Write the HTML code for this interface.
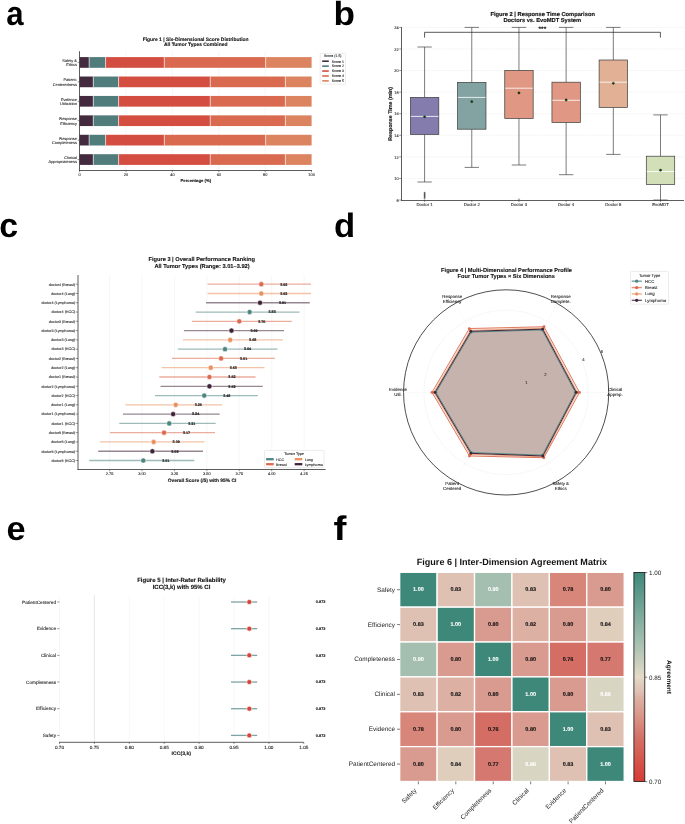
<!DOCTYPE html>
<html><head><meta charset="utf-8"><style>
html,body{margin:0;padding:0;background:#fff;}
svg{display:block;will-change:transform;font-family:"Liberation Sans",sans-serif;}
</style></head><body>
<svg text-rendering="geometricPrecision" width="685" height="824" viewBox="0 0 685 824">
<rect width="685" height="824" fill="#fff"/>
<text x="0" y="0" font-size="33.9" font-weight="bold" fill="#000" transform="translate(6.25,24.66) scale(0.92,1)">a</text>
<text x="0" y="0" font-size="33.5" font-weight="bold" fill="#000" transform="translate(333.5,24.77) scale(1.05,1)">b</text>
<text x="0" y="0" font-size="33.9" font-weight="bold" fill="#000" transform="translate(-0.72,237.06) scale(1,1)">c</text>
<text x="0" y="0" font-size="33.7" font-weight="bold" fill="#000" transform="translate(334.1,236.76) scale(1.03,1)">d</text>
<text x="0" y="0" font-size="33.6" font-weight="bold" fill="#000" transform="translate(6.6,540.26) scale(1.02,1)">e</text>
<text x="0" y="0" font-size="34.1" font-weight="bold" fill="#000" transform="translate(333.5,540.4) scale(1.14,1)">f</text>
<line x1="126" y1="51.2" x2="126" y2="170" stroke="#ececec" stroke-width="0.5"/>
<line x1="172.4" y1="51.2" x2="172.4" y2="170" stroke="#ececec" stroke-width="0.5"/>
<line x1="218.8" y1="51.2" x2="218.8" y2="170" stroke="#ececec" stroke-width="0.5"/>
<line x1="265.2" y1="51.2" x2="265.2" y2="170" stroke="#ececec" stroke-width="0.5"/>
<rect x="79.6" y="57.1" width="9.51" height="10.7" fill="#432a3e"/>
<rect x="89.11" y="57.1" width="16.47" height="10.7" fill="#507c7b"/>
<rect x="105.58" y="57.1" width="58.7" height="10.7" fill="#d34d40"/>
<rect x="164.28" y="57.1" width="101.38" height="10.7" fill="#da6a4f"/>
<rect x="265.66" y="57.1" width="45.94" height="10.7" fill="#dc8360"/>
<line x1="89.11" y1="57.1" x2="89.11" y2="67.8" stroke="#fff" stroke-width="0.6"/>
<line x1="105.58" y1="57.1" x2="105.58" y2="67.8" stroke="#fff" stroke-width="0.6"/>
<line x1="164.28" y1="57.1" x2="164.28" y2="67.8" stroke="#fff" stroke-width="0.6"/>
<line x1="265.66" y1="57.1" x2="265.66" y2="67.8" stroke="#fff" stroke-width="0.6"/>
<text x="76.9" y="61.95" font-size="3.9" text-anchor="end" fill="#222" stroke="#222" stroke-width="0.09">Safety &amp;</text>
<text x="76.9" y="66.35" font-size="3.9" text-anchor="end" fill="#222" stroke="#222" stroke-width="0.09">Ethics</text>
<line x1="77.6" y1="62.45" x2="79.6" y2="62.45" stroke="#333333" stroke-width="0.5"/>
<rect x="79.6" y="76.52" width="13.69" height="10.7" fill="#432a3e"/>
<rect x="93.29" y="76.52" width="25.29" height="10.7" fill="#507c7b"/>
<rect x="118.58" y="76.52" width="91.64" height="10.7" fill="#d34d40"/>
<rect x="210.22" y="76.52" width="75.17" height="10.7" fill="#da6a4f"/>
<rect x="285.38" y="76.52" width="26.22" height="10.7" fill="#dc8360"/>
<line x1="93.29" y1="76.52" x2="93.29" y2="87.22" stroke="#fff" stroke-width="0.6"/>
<line x1="118.58" y1="76.52" x2="118.58" y2="87.22" stroke="#fff" stroke-width="0.6"/>
<line x1="210.22" y1="76.52" x2="210.22" y2="87.22" stroke="#fff" stroke-width="0.6"/>
<line x1="285.38" y1="76.52" x2="285.38" y2="87.22" stroke="#fff" stroke-width="0.6"/>
<text x="76.9" y="81.37" font-size="3.9" text-anchor="end" fill="#222" stroke="#222" stroke-width="0.09">Patient-</text>
<text x="76.9" y="85.77" font-size="3.9" text-anchor="end" fill="#222" stroke="#222" stroke-width="0.09">Centeredness</text>
<line x1="77.6" y1="81.87" x2="79.6" y2="81.87" stroke="#333333" stroke-width="0.5"/>
<rect x="79.6" y="95.94" width="13.69" height="10.7" fill="#432a3e"/>
<rect x="93.29" y="95.94" width="25.29" height="10.7" fill="#507c7b"/>
<rect x="118.58" y="95.94" width="91.64" height="10.7" fill="#d34d40"/>
<rect x="210.22" y="95.94" width="75.17" height="10.7" fill="#da6a4f"/>
<rect x="285.38" y="95.94" width="26.22" height="10.7" fill="#dc8360"/>
<line x1="93.29" y1="95.94" x2="93.29" y2="106.64" stroke="#fff" stroke-width="0.6"/>
<line x1="118.58" y1="95.94" x2="118.58" y2="106.64" stroke="#fff" stroke-width="0.6"/>
<line x1="210.22" y1="95.94" x2="210.22" y2="106.64" stroke="#fff" stroke-width="0.6"/>
<line x1="285.38" y1="95.94" x2="285.38" y2="106.64" stroke="#fff" stroke-width="0.6"/>
<text x="76.9" y="100.79" font-size="3.9" text-anchor="end" fill="#222" stroke="#222" stroke-width="0.09">Evidence</text>
<text x="76.9" y="105.19" font-size="3.9" text-anchor="end" fill="#222" stroke="#222" stroke-width="0.09">Utilization</text>
<line x1="77.6" y1="101.29" x2="79.6" y2="101.29" stroke="#333333" stroke-width="0.5"/>
<rect x="79.6" y="115.36" width="13.69" height="10.7" fill="#432a3e"/>
<rect x="93.29" y="115.36" width="25.29" height="10.7" fill="#507c7b"/>
<rect x="118.58" y="115.36" width="91.64" height="10.7" fill="#d34d40"/>
<rect x="210.22" y="115.36" width="75.17" height="10.7" fill="#da6a4f"/>
<rect x="285.38" y="115.36" width="26.22" height="10.7" fill="#dc8360"/>
<line x1="93.29" y1="115.36" x2="93.29" y2="126.06" stroke="#fff" stroke-width="0.6"/>
<line x1="118.58" y1="115.36" x2="118.58" y2="126.06" stroke="#fff" stroke-width="0.6"/>
<line x1="210.22" y1="115.36" x2="210.22" y2="126.06" stroke="#fff" stroke-width="0.6"/>
<line x1="285.38" y1="115.36" x2="285.38" y2="126.06" stroke="#fff" stroke-width="0.6"/>
<text x="76.9" y="120.21" font-size="3.9" text-anchor="end" fill="#222" stroke="#222" stroke-width="0.09">Response</text>
<text x="76.9" y="124.61" font-size="3.9" text-anchor="end" fill="#222" stroke="#222" stroke-width="0.09">Efficiency</text>
<line x1="77.6" y1="120.71" x2="79.6" y2="120.71" stroke="#333333" stroke-width="0.5"/>
<rect x="79.6" y="134.78" width="9.51" height="10.7" fill="#432a3e"/>
<rect x="89.11" y="134.78" width="16.47" height="10.7" fill="#507c7b"/>
<rect x="105.58" y="134.78" width="58.7" height="10.7" fill="#d34d40"/>
<rect x="164.28" y="134.78" width="101.38" height="10.7" fill="#da6a4f"/>
<rect x="265.66" y="134.78" width="45.94" height="10.7" fill="#dc8360"/>
<line x1="89.11" y1="134.78" x2="89.11" y2="145.48" stroke="#fff" stroke-width="0.6"/>
<line x1="105.58" y1="134.78" x2="105.58" y2="145.48" stroke="#fff" stroke-width="0.6"/>
<line x1="164.28" y1="134.78" x2="164.28" y2="145.48" stroke="#fff" stroke-width="0.6"/>
<line x1="265.66" y1="134.78" x2="265.66" y2="145.48" stroke="#fff" stroke-width="0.6"/>
<text x="76.9" y="139.63" font-size="3.9" text-anchor="end" fill="#222" stroke="#222" stroke-width="0.09">Response</text>
<text x="76.9" y="144.03" font-size="3.9" text-anchor="end" fill="#222" stroke="#222" stroke-width="0.09">Completeness</text>
<line x1="77.6" y1="140.13" x2="79.6" y2="140.13" stroke="#333333" stroke-width="0.5"/>
<rect x="79.6" y="154.2" width="13.69" height="10.7" fill="#432a3e"/>
<rect x="93.29" y="154.2" width="25.29" height="10.7" fill="#507c7b"/>
<rect x="118.58" y="154.2" width="91.64" height="10.7" fill="#d34d40"/>
<rect x="210.22" y="154.2" width="75.17" height="10.7" fill="#da6a4f"/>
<rect x="285.38" y="154.2" width="26.22" height="10.7" fill="#dc8360"/>
<line x1="93.29" y1="154.2" x2="93.29" y2="164.9" stroke="#fff" stroke-width="0.6"/>
<line x1="118.58" y1="154.2" x2="118.58" y2="164.9" stroke="#fff" stroke-width="0.6"/>
<line x1="210.22" y1="154.2" x2="210.22" y2="164.9" stroke="#fff" stroke-width="0.6"/>
<line x1="285.38" y1="154.2" x2="285.38" y2="164.9" stroke="#fff" stroke-width="0.6"/>
<text x="76.9" y="159.05" font-size="3.9" text-anchor="end" fill="#222" stroke="#222" stroke-width="0.09">Clinical</text>
<text x="76.9" y="163.45" font-size="3.9" text-anchor="end" fill="#222" stroke="#222" stroke-width="0.09">Appropriateness</text>
<line x1="77.6" y1="159.55" x2="79.6" y2="159.55" stroke="#333333" stroke-width="0.5"/>
<line x1="79.5" y1="51.2" x2="79.5" y2="170.9" stroke="#333333" stroke-width="0.8"/>
<line x1="79.1" y1="170.5" x2="312" y2="170.5" stroke="#333333" stroke-width="0.8"/>
<line x1="79.6" y1="170.5" x2="79.6" y2="172.2" stroke="#333333" stroke-width="0.5"/>
<text x="79.6" y="176" font-size="3.9" text-anchor="middle" fill="#222" stroke="#222" stroke-width="0.09">0</text>
<line x1="126" y1="170.5" x2="126" y2="172.2" stroke="#333333" stroke-width="0.5"/>
<text x="126" y="176" font-size="3.9" text-anchor="middle" fill="#222" stroke="#222" stroke-width="0.09">20</text>
<line x1="172.4" y1="170.5" x2="172.4" y2="172.2" stroke="#333333" stroke-width="0.5"/>
<text x="172.4" y="176" font-size="3.9" text-anchor="middle" fill="#222" stroke="#222" stroke-width="0.09">40</text>
<line x1="218.8" y1="170.5" x2="218.8" y2="172.2" stroke="#333333" stroke-width="0.5"/>
<text x="218.8" y="176" font-size="3.9" text-anchor="middle" fill="#222" stroke="#222" stroke-width="0.09">60</text>
<line x1="265.2" y1="170.5" x2="265.2" y2="172.2" stroke="#333333" stroke-width="0.5"/>
<text x="265.2" y="176" font-size="3.9" text-anchor="middle" fill="#222" stroke="#222" stroke-width="0.09">80</text>
<line x1="311.6" y1="170.5" x2="311.6" y2="172.2" stroke="#333333" stroke-width="0.5"/>
<text x="311.6" y="176" font-size="3.9" text-anchor="middle" fill="#222" stroke="#222" stroke-width="0.09">100</text>
<text x="195.8" y="181.6" font-size="4.25" font-weight="bold" text-anchor="middle" fill="#111" stroke="#111" stroke-width="0.1">Percentage (%)</text>
<text x="195.6" y="40.8" font-size="4.94" font-weight="bold" text-anchor="middle" fill="#111" stroke="#111" stroke-width="0.1">Figure 1 | Six-Dimensional Score Distribution</text>
<text x="195.7" y="46.2" font-size="4.94" font-weight="bold" text-anchor="middle" fill="#111" stroke="#111" stroke-width="0.1">All Tumor Types Combined</text>
<rect x="320.2" y="53.4" width="25.3" height="30.7" fill="#fff" stroke="#d8d8d8" stroke-width="0.5" rx="0.8"/>
<text x="332.8" y="57.4" font-size="3.5" text-anchor="middle" fill="#222" stroke="#222" stroke-width="0.09">Score (1-5)</text>
<rect x="322.2" y="60.4" width="6.6" height="1.6" fill="#432a3e"/>
<text x="331.8" y="62.5" font-size="3.5" text-anchor="start" fill="#222" stroke="#222" stroke-width="0.09">Score 1</text>
<rect x="322.2" y="65.32" width="6.6" height="1.6" fill="#507c7b"/>
<text x="331.8" y="67.42" font-size="3.5" text-anchor="start" fill="#222" stroke="#222" stroke-width="0.09">Score 2</text>
<rect x="322.2" y="70.24" width="6.6" height="1.6" fill="#d34d40"/>
<text x="331.8" y="72.34" font-size="3.5" text-anchor="start" fill="#222" stroke="#222" stroke-width="0.09">Score 3</text>
<rect x="322.2" y="75.16" width="6.6" height="1.6" fill="#da6a4f"/>
<text x="331.8" y="77.26" font-size="3.5" text-anchor="start" fill="#222" stroke="#222" stroke-width="0.09">Score 4</text>
<rect x="322.2" y="80.08" width="6.6" height="1.6" fill="#dc8360"/>
<text x="331.8" y="82.18" font-size="3.5" text-anchor="start" fill="#222" stroke="#222" stroke-width="0.09">Score 5</text>
<line x1="399.2" y1="200.04" x2="401.5" y2="200.04" stroke="#333333" stroke-width="0.5"/>
<text x="398.6" y="201.74" font-size="3.9" text-anchor="end" fill="#222" stroke="#222" stroke-width="0.09">8</text>
<line x1="402.5" y1="178.46" x2="684" y2="178.46" stroke="#ebebeb" stroke-width="0.6" stroke-dasharray="2,1"/>
<line x1="399.2" y1="178.46" x2="401.5" y2="178.46" stroke="#333333" stroke-width="0.5"/>
<text x="398.6" y="180.16" font-size="3.9" text-anchor="end" fill="#222" stroke="#222" stroke-width="0.09">10</text>
<line x1="402.5" y1="156.88" x2="684" y2="156.88" stroke="#ebebeb" stroke-width="0.6" stroke-dasharray="2,1"/>
<line x1="399.2" y1="156.88" x2="401.5" y2="156.88" stroke="#333333" stroke-width="0.5"/>
<text x="398.6" y="158.58" font-size="3.9" text-anchor="end" fill="#222" stroke="#222" stroke-width="0.09">12</text>
<line x1="402.5" y1="135.3" x2="684" y2="135.3" stroke="#ebebeb" stroke-width="0.6" stroke-dasharray="2,1"/>
<line x1="399.2" y1="135.3" x2="401.5" y2="135.3" stroke="#333333" stroke-width="0.5"/>
<text x="398.6" y="137" font-size="3.9" text-anchor="end" fill="#222" stroke="#222" stroke-width="0.09">14</text>
<line x1="402.5" y1="113.72" x2="684" y2="113.72" stroke="#ebebeb" stroke-width="0.6" stroke-dasharray="2,1"/>
<line x1="399.2" y1="113.72" x2="401.5" y2="113.72" stroke="#333333" stroke-width="0.5"/>
<text x="398.6" y="115.42" font-size="3.9" text-anchor="end" fill="#222" stroke="#222" stroke-width="0.09">16</text>
<line x1="402.5" y1="92.14" x2="684" y2="92.14" stroke="#ebebeb" stroke-width="0.6" stroke-dasharray="2,1"/>
<line x1="399.2" y1="92.14" x2="401.5" y2="92.14" stroke="#333333" stroke-width="0.5"/>
<text x="398.6" y="93.84" font-size="3.9" text-anchor="end" fill="#222" stroke="#222" stroke-width="0.09">18</text>
<line x1="402.5" y1="70.56" x2="684" y2="70.56" stroke="#ebebeb" stroke-width="0.6" stroke-dasharray="2,1"/>
<line x1="399.2" y1="70.56" x2="401.5" y2="70.56" stroke="#333333" stroke-width="0.5"/>
<text x="398.6" y="72.26" font-size="3.9" text-anchor="end" fill="#222" stroke="#222" stroke-width="0.09">20</text>
<line x1="402.5" y1="48.98" x2="684" y2="48.98" stroke="#ebebeb" stroke-width="0.6" stroke-dasharray="2,1"/>
<line x1="399.2" y1="48.98" x2="401.5" y2="48.98" stroke="#333333" stroke-width="0.5"/>
<text x="398.6" y="50.68" font-size="3.9" text-anchor="end" fill="#222" stroke="#222" stroke-width="0.09">22</text>
<line x1="402.5" y1="27.4" x2="684" y2="27.4" stroke="#ebebeb" stroke-width="0.6" stroke-dasharray="2,1"/>
<line x1="399.2" y1="27.4" x2="401.5" y2="27.4" stroke="#333333" stroke-width="0.5"/>
<text x="398.6" y="29.1" font-size="3.9" text-anchor="end" fill="#222" stroke="#222" stroke-width="0.09">24</text>
<line x1="401.5" y1="27" x2="401.5" y2="200.9" stroke="#333333" stroke-width="0.8"/>
<line x1="401.5" y1="200.5" x2="684" y2="200.5" stroke="#333333" stroke-width="0.8"/>
<line x1="424.6" y1="47" x2="424.6" y2="97.4" stroke="#444" stroke-width="0.7"/>
<line x1="424.6" y1="134.4" x2="424.6" y2="182" stroke="#444" stroke-width="0.7"/>
<line x1="417.4" y1="47" x2="431.8" y2="47" stroke="#444" stroke-width="0.7"/>
<line x1="417.4" y1="182" x2="431.8" y2="182" stroke="#444" stroke-width="0.7"/>
<rect x="410.4" y="97.4" width="28.4" height="37" fill="#857cae" stroke="#3a3a3a" stroke-width="0.7"/>
<line x1="410.8" y1="116.4" x2="438.4" y2="116.4" stroke="#ffffff" stroke-width="0.9" stroke-opacity="0.9"/>
<circle cx="424.6" cy="116.8" r="1.15" fill="#0b4d0b" stroke="#000" stroke-width="0.3"/>
<line x1="424.6" y1="200.3" x2="424.6" y2="202" stroke="#333333" stroke-width="0.5"/>
<text x="424.6" y="206.1" font-size="4.3" text-anchor="middle" fill="#222" stroke="#222" stroke-width="0.09">Doctor 1</text>
<line x1="471.78" y1="27.4" x2="471.78" y2="82.4" stroke="#444" stroke-width="0.7"/>
<line x1="471.78" y1="129.2" x2="471.78" y2="167.4" stroke="#444" stroke-width="0.7"/>
<line x1="464.58" y1="27.4" x2="478.98" y2="27.4" stroke="#444" stroke-width="0.7"/>
<line x1="464.58" y1="167.4" x2="478.98" y2="167.4" stroke="#444" stroke-width="0.7"/>
<rect x="457.58" y="82.4" width="28.4" height="46.8" fill="#82a3a1" stroke="#3a3a3a" stroke-width="0.7"/>
<line x1="457.98" y1="97.4" x2="485.58" y2="97.4" stroke="#ffffff" stroke-width="0.9" stroke-opacity="0.9"/>
<circle cx="471.78" cy="101.6" r="1.15" fill="#0b4d0b" stroke="#000" stroke-width="0.3"/>
<line x1="471.78" y1="200.3" x2="471.78" y2="202" stroke="#333333" stroke-width="0.5"/>
<text x="471.78" y="206.1" font-size="4.3" text-anchor="middle" fill="#222" stroke="#222" stroke-width="0.09">Doctor 2</text>
<line x1="518.96" y1="27.4" x2="518.96" y2="70.4" stroke="#444" stroke-width="0.7"/>
<line x1="518.96" y1="118.4" x2="518.96" y2="165" stroke="#444" stroke-width="0.7"/>
<line x1="511.76" y1="27.4" x2="526.16" y2="27.4" stroke="#444" stroke-width="0.7"/>
<line x1="511.76" y1="165" x2="526.16" y2="165" stroke="#444" stroke-width="0.7"/>
<rect x="504.76" y="70.4" width="28.4" height="48" fill="#e09884" stroke="#3a3a3a" stroke-width="0.7"/>
<line x1="505.16" y1="88.2" x2="532.76" y2="88.2" stroke="#ffffff" stroke-width="0.9" stroke-opacity="0.9"/>
<circle cx="518.96" cy="92.9" r="1.15" fill="#0b4d0b" stroke="#000" stroke-width="0.3"/>
<line x1="518.96" y1="200.3" x2="518.96" y2="202" stroke="#333333" stroke-width="0.5"/>
<text x="518.96" y="206.1" font-size="4.3" text-anchor="middle" fill="#222" stroke="#222" stroke-width="0.09">Doctor 3</text>
<line x1="566.14" y1="27.4" x2="566.14" y2="82.2" stroke="#444" stroke-width="0.7"/>
<line x1="566.14" y1="122.5" x2="566.14" y2="174.7" stroke="#444" stroke-width="0.7"/>
<line x1="558.94" y1="27.4" x2="573.34" y2="27.4" stroke="#444" stroke-width="0.7"/>
<line x1="558.94" y1="174.7" x2="573.34" y2="174.7" stroke="#444" stroke-width="0.7"/>
<rect x="551.94" y="82.2" width="28.4" height="40.3" fill="#e09884" stroke="#3a3a3a" stroke-width="0.7"/>
<line x1="552.34" y1="100.3" x2="579.94" y2="100.3" stroke="#ffffff" stroke-width="0.9" stroke-opacity="0.9"/>
<circle cx="566.14" cy="100" r="1.15" fill="#0b4d0b" stroke="#000" stroke-width="0.3"/>
<line x1="566.14" y1="200.3" x2="566.14" y2="202" stroke="#333333" stroke-width="0.5"/>
<text x="566.14" y="206.1" font-size="4.3" text-anchor="middle" fill="#222" stroke="#222" stroke-width="0.09">Doctor 4</text>
<line x1="613.32" y1="27.4" x2="613.32" y2="60" stroke="#444" stroke-width="0.7"/>
<line x1="613.32" y1="107.4" x2="613.32" y2="154.4" stroke="#444" stroke-width="0.7"/>
<line x1="606.12" y1="27.4" x2="620.52" y2="27.4" stroke="#444" stroke-width="0.7"/>
<line x1="606.12" y1="154.4" x2="620.52" y2="154.4" stroke="#444" stroke-width="0.7"/>
<rect x="599.12" y="60" width="28.4" height="47.4" fill="#e2b095" stroke="#3a3a3a" stroke-width="0.7"/>
<line x1="599.52" y1="82.2" x2="627.12" y2="82.2" stroke="#ffffff" stroke-width="0.9" stroke-opacity="0.9"/>
<circle cx="613.32" cy="83.3" r="1.15" fill="#0b4d0b" stroke="#000" stroke-width="0.3"/>
<line x1="613.32" y1="200.3" x2="613.32" y2="202" stroke="#333333" stroke-width="0.5"/>
<text x="613.32" y="206.1" font-size="4.3" text-anchor="middle" fill="#222" stroke="#222" stroke-width="0.09">Doctor 5</text>
<line x1="660.5" y1="114.9" x2="660.5" y2="156.2" stroke="#444" stroke-width="0.7"/>
<line x1="660.5" y1="184.5" x2="660.5" y2="200" stroke="#444" stroke-width="0.7"/>
<line x1="653.3" y1="114.9" x2="667.7" y2="114.9" stroke="#444" stroke-width="0.7"/>
<line x1="653.3" y1="200" x2="667.7" y2="200" stroke="#444" stroke-width="0.7"/>
<rect x="646.3" y="156.2" width="28.4" height="28.3" fill="#d3dfb9" stroke="#3a3a3a" stroke-width="0.7"/>
<line x1="646.7" y1="171.5" x2="674.3" y2="171.5" stroke="#ffffff" stroke-width="0.9" stroke-opacity="0.9"/>
<circle cx="660.5" cy="170.2" r="1.15" fill="#0b4d0b" stroke="#000" stroke-width="0.3"/>
<line x1="660.5" y1="200.3" x2="660.5" y2="202" stroke="#333333" stroke-width="0.5"/>
<text x="660.5" y="206.1" font-size="4.3" text-anchor="middle" fill="#222" stroke="#222" stroke-width="0.09">EvoMDT</text>
<rect x="423.9" y="192.2" width="1.4" height="6" fill="#6a6a6a"/>
<circle cx="424.6" cy="192.8" r="0.65" fill="none" stroke="#444" stroke-width="0.35"/>
<circle cx="424.6" cy="194.3" r="0.65" fill="none" stroke="#444" stroke-width="0.35"/>
<circle cx="424.6" cy="195.8" r="0.65" fill="none" stroke="#444" stroke-width="0.35"/>
<circle cx="424.6" cy="197.3" r="0.65" fill="none" stroke="#444" stroke-width="0.35"/>
<circle cx="424.6" cy="198.8" r="0.65" fill="none" stroke="#444" stroke-width="0.35"/>
<circle cx="518.96" cy="199.4" r="0.7" fill="none" stroke="#444" stroke-width="0.4"/>
<polyline points="424.6,37.6 424.6,32.3 660.4,32.3 660.4,37.6" fill="none" stroke="#222" stroke-width="0.75"/>
<text x="542.4" y="31.2" font-size="6.5" font-weight="bold" text-anchor="middle" fill="#222" stroke="#222" stroke-width="0.1">***</text>
<text x="542.7" y="16.1" font-size="5.74" font-weight="bold" text-anchor="middle" fill="#111" stroke="#111" stroke-width="0.15">Figure 2 | Response Time Comparison</text>
<text x="542.3" y="22" font-size="5.74" font-weight="bold" text-anchor="middle" fill="#111" stroke="#111" stroke-width="0.15">Doctors vs. EvoMDT System</text>
<text x="0" y="0" font-size="5.35" font-weight="bold" text-anchor="middle" fill="#111" stroke="#111" stroke-width="0.12" transform="translate(392.4,113.9) rotate(-90)">Response Time (min)</text>
<line x1="109.58" y1="275" x2="109.58" y2="469.5" stroke="#efefef" stroke-width="0.5"/>
<line x1="142" y1="275" x2="142" y2="469.5" stroke="#efefef" stroke-width="0.5"/>
<line x1="174.43" y1="275" x2="174.43" y2="469.5" stroke="#efefef" stroke-width="0.5"/>
<line x1="206.85" y1="275" x2="206.85" y2="469.5" stroke="#efefef" stroke-width="0.5"/>
<line x1="239.27" y1="275" x2="239.27" y2="469.5" stroke="#efefef" stroke-width="0.5"/>
<line x1="271.7" y1="275" x2="271.7" y2="469.5" stroke="#efefef" stroke-width="0.5"/>
<line x1="304.12" y1="275" x2="304.12" y2="469.5" stroke="#efefef" stroke-width="0.5"/>
<line x1="207.6" y1="284.2" x2="311" y2="284.2" stroke="#dc6a4f" stroke-width="1.3" stroke-opacity="0.55"/>
<circle cx="261.32" cy="284.2" r="2.6" fill="#dc6a4f" stroke="#fff" stroke-width="0.6"/>
<text x="283.82" y="285.5" font-size="3.7" font-weight="bold" text-anchor="middle" fill="#111" stroke="#111" stroke-width="0.1">3.92</text>
<text x="75" y="285.5" font-size="3.66" text-anchor="end" fill="#222" stroke="#222" stroke-width="0.09">doctor4 (Breast)</text>
<line x1="75.6" y1="284.2" x2="78" y2="284.2" stroke="#333333" stroke-width="0.5"/>
<line x1="207.6" y1="293.48" x2="311" y2="293.48" stroke="#e8915f" stroke-width="1.3" stroke-opacity="0.55"/>
<circle cx="261.32" cy="293.48" r="2.6" fill="#e8915f" stroke="#fff" stroke-width="0.6"/>
<text x="283.82" y="294.78" font-size="3.7" font-weight="bold" text-anchor="middle" fill="#111" stroke="#111" stroke-width="0.1">3.92</text>
<text x="75" y="294.78" font-size="3.66" text-anchor="end" fill="#222" stroke="#222" stroke-width="0.09">doctor4 (Lung)</text>
<line x1="75.6" y1="293.48" x2="78" y2="293.48" stroke="#333333" stroke-width="0.5"/>
<line x1="206.1" y1="302.76" x2="309.8" y2="302.76" stroke="#3f2439" stroke-width="1.3" stroke-opacity="0.55"/>
<circle cx="260.03" cy="302.76" r="2.6" fill="#3f2439" stroke="#fff" stroke-width="0.6"/>
<text x="282.53" y="304.06" font-size="3.7" font-weight="bold" text-anchor="middle" fill="#111" stroke="#111" stroke-width="0.1">3.91</text>
<text x="75" y="304.06" font-size="3.66" text-anchor="end" fill="#222" stroke="#222" stroke-width="0.09">doctor4 (Lymphoma)</text>
<line x1="75.6" y1="302.76" x2="78" y2="302.76" stroke="#333333" stroke-width="0.5"/>
<line x1="195.7" y1="312.04" x2="299.5" y2="312.04" stroke="#4d8580" stroke-width="1.3" stroke-opacity="0.55"/>
<circle cx="249.65" cy="312.04" r="2.6" fill="#4d8580" stroke="#fff" stroke-width="0.6"/>
<text x="272.15" y="313.34" font-size="3.7" font-weight="bold" text-anchor="middle" fill="#111" stroke="#111" stroke-width="0.1">3.83</text>
<text x="75" y="313.34" font-size="3.66" text-anchor="end" fill="#222" stroke="#222" stroke-width="0.09">doctor4 (HCC)</text>
<line x1="75.6" y1="312.04" x2="78" y2="312.04" stroke="#333333" stroke-width="0.5"/>
<line x1="191.9" y1="321.32" x2="291.7" y2="321.32" stroke="#dc6a4f" stroke-width="1.3" stroke-opacity="0.55"/>
<circle cx="239.27" cy="321.32" r="2.6" fill="#dc6a4f" stroke="#fff" stroke-width="0.6"/>
<text x="261.77" y="322.62" font-size="3.7" font-weight="bold" text-anchor="middle" fill="#111" stroke="#111" stroke-width="0.1">3.75</text>
<text x="75" y="322.62" font-size="3.66" text-anchor="end" fill="#222" stroke="#222" stroke-width="0.09">doctor3 (Breast)</text>
<line x1="75.6" y1="321.32" x2="78" y2="321.32" stroke="#333333" stroke-width="0.5"/>
<line x1="183.9" y1="330.6" x2="284" y2="330.6" stroke="#3f2439" stroke-width="1.3" stroke-opacity="0.55"/>
<circle cx="231.49" cy="330.6" r="2.6" fill="#3f2439" stroke="#fff" stroke-width="0.6"/>
<text x="253.99" y="331.9" font-size="3.7" font-weight="bold" text-anchor="middle" fill="#111" stroke="#111" stroke-width="0.1">3.69</text>
<text x="75" y="331.9" font-size="3.66" text-anchor="end" fill="#222" stroke="#222" stroke-width="0.09">doctor3 (Lymphoma)</text>
<line x1="75.6" y1="330.6" x2="78" y2="330.6" stroke="#333333" stroke-width="0.5"/>
<line x1="183" y1="339.88" x2="282.9" y2="339.88" stroke="#e8915f" stroke-width="1.3" stroke-opacity="0.55"/>
<circle cx="230.2" cy="339.88" r="2.6" fill="#e8915f" stroke="#fff" stroke-width="0.6"/>
<text x="252.7" y="341.18" font-size="3.7" font-weight="bold" text-anchor="middle" fill="#111" stroke="#111" stroke-width="0.1">3.68</text>
<text x="75" y="341.18" font-size="3.66" text-anchor="end" fill="#222" stroke="#222" stroke-width="0.09">doctor3 (Lung)</text>
<line x1="75.6" y1="339.88" x2="78" y2="339.88" stroke="#333333" stroke-width="0.5"/>
<line x1="177.9" y1="349.16" x2="277.5" y2="349.16" stroke="#4d8580" stroke-width="1.3" stroke-opacity="0.55"/>
<circle cx="225.01" cy="349.16" r="2.6" fill="#4d8580" stroke="#fff" stroke-width="0.6"/>
<text x="247.51" y="350.46" font-size="3.7" font-weight="bold" text-anchor="middle" fill="#111" stroke="#111" stroke-width="0.1">3.64</text>
<text x="75" y="350.46" font-size="3.66" text-anchor="end" fill="#222" stroke="#222" stroke-width="0.09">doctor3 (HCC)</text>
<line x1="75.6" y1="349.16" x2="78" y2="349.16" stroke="#333333" stroke-width="0.5"/>
<line x1="172" y1="358.44" x2="274.9" y2="358.44" stroke="#dc6a4f" stroke-width="1.3" stroke-opacity="0.55"/>
<circle cx="221.12" cy="358.44" r="2.6" fill="#dc6a4f" stroke="#fff" stroke-width="0.6"/>
<text x="243.62" y="359.74" font-size="3.7" font-weight="bold" text-anchor="middle" fill="#111" stroke="#111" stroke-width="0.1">3.61</text>
<text x="75" y="359.74" font-size="3.66" text-anchor="end" fill="#222" stroke="#222" stroke-width="0.09">doctor2 (Breast)</text>
<line x1="75.6" y1="358.44" x2="78" y2="358.44" stroke="#333333" stroke-width="0.5"/>
<line x1="161.6" y1="367.72" x2="264.5" y2="367.72" stroke="#e8915f" stroke-width="1.3" stroke-opacity="0.55"/>
<circle cx="210.74" cy="367.72" r="2.6" fill="#e8915f" stroke="#fff" stroke-width="0.6"/>
<text x="233.24" y="369.02" font-size="3.7" font-weight="bold" text-anchor="middle" fill="#111" stroke="#111" stroke-width="0.1">3.53</text>
<text x="75" y="369.02" font-size="3.66" text-anchor="end" fill="#222" stroke="#222" stroke-width="0.09">doctor2 (Lung)</text>
<line x1="75.6" y1="367.72" x2="78" y2="367.72" stroke="#333333" stroke-width="0.5"/>
<line x1="159.3" y1="377" x2="255.6" y2="377" stroke="#dc6a4f" stroke-width="1.3" stroke-opacity="0.55"/>
<circle cx="209.44" cy="377" r="2.6" fill="#dc6a4f" stroke="#fff" stroke-width="0.6"/>
<text x="231.94" y="378.3" font-size="3.7" font-weight="bold" text-anchor="middle" fill="#111" stroke="#111" stroke-width="0.1">3.52</text>
<text x="75" y="378.3" font-size="3.66" text-anchor="end" fill="#222" stroke="#222" stroke-width="0.09">doctor1 (Breast)</text>
<line x1="75.6" y1="377" x2="78" y2="377" stroke="#333333" stroke-width="0.5"/>
<line x1="160.5" y1="386.28" x2="262.8" y2="386.28" stroke="#3f2439" stroke-width="1.3" stroke-opacity="0.55"/>
<circle cx="209.44" cy="386.28" r="2.6" fill="#3f2439" stroke="#fff" stroke-width="0.6"/>
<text x="231.94" y="387.58" font-size="3.7" font-weight="bold" text-anchor="middle" fill="#111" stroke="#111" stroke-width="0.1">3.52</text>
<text x="75" y="387.58" font-size="3.66" text-anchor="end" fill="#222" stroke="#222" stroke-width="0.09">doctor2 (Lymphoma)</text>
<line x1="75.6" y1="386.28" x2="78" y2="386.28" stroke="#333333" stroke-width="0.5"/>
<line x1="155" y1="395.56" x2="257.8" y2="395.56" stroke="#4d8580" stroke-width="1.3" stroke-opacity="0.55"/>
<circle cx="204.26" cy="395.56" r="2.6" fill="#4d8580" stroke="#fff" stroke-width="0.6"/>
<text x="226.76" y="396.86" font-size="3.7" font-weight="bold" text-anchor="middle" fill="#111" stroke="#111" stroke-width="0.1">3.48</text>
<text x="75" y="396.86" font-size="3.66" text-anchor="end" fill="#222" stroke="#222" stroke-width="0.09">doctor2 (HCC)</text>
<line x1="75.6" y1="395.56" x2="78" y2="395.56" stroke="#333333" stroke-width="0.5"/>
<line x1="125.4" y1="404.84" x2="222.1" y2="404.84" stroke="#e8915f" stroke-width="1.3" stroke-opacity="0.55"/>
<circle cx="175.72" cy="404.84" r="2.6" fill="#e8915f" stroke="#fff" stroke-width="0.6"/>
<text x="198.22" y="406.14" font-size="3.7" font-weight="bold" text-anchor="middle" fill="#111" stroke="#111" stroke-width="0.1">3.26</text>
<text x="75" y="406.14" font-size="3.66" text-anchor="end" fill="#222" stroke="#222" stroke-width="0.09">doctor1 (Lung)</text>
<line x1="75.6" y1="404.84" x2="78" y2="404.84" stroke="#333333" stroke-width="0.5"/>
<line x1="123" y1="414.12" x2="219.7" y2="414.12" stroke="#3f2439" stroke-width="1.3" stroke-opacity="0.55"/>
<circle cx="173.13" cy="414.12" r="2.6" fill="#3f2439" stroke="#fff" stroke-width="0.6"/>
<text x="195.63" y="415.42" font-size="3.7" font-weight="bold" text-anchor="middle" fill="#111" stroke="#111" stroke-width="0.1">3.24</text>
<text x="75" y="415.42" font-size="3.66" text-anchor="end" fill="#222" stroke="#222" stroke-width="0.09">doctor1 (Lymphoma)</text>
<line x1="75.6" y1="414.12" x2="78" y2="414.12" stroke="#333333" stroke-width="0.5"/>
<line x1="119.3" y1="423.4" x2="215.7" y2="423.4" stroke="#4d8580" stroke-width="1.3" stroke-opacity="0.55"/>
<circle cx="169.24" cy="423.4" r="2.6" fill="#4d8580" stroke="#fff" stroke-width="0.6"/>
<text x="191.74" y="424.7" font-size="3.7" font-weight="bold" text-anchor="middle" fill="#111" stroke="#111" stroke-width="0.1">3.21</text>
<text x="75" y="424.7" font-size="3.66" text-anchor="end" fill="#222" stroke="#222" stroke-width="0.09">doctor1 (HCC)</text>
<line x1="75.6" y1="423.4" x2="78" y2="423.4" stroke="#333333" stroke-width="0.5"/>
<line x1="110" y1="432.68" x2="215" y2="432.68" stroke="#dc6a4f" stroke-width="1.3" stroke-opacity="0.55"/>
<circle cx="164.05" cy="432.68" r="2.6" fill="#dc6a4f" stroke="#fff" stroke-width="0.6"/>
<text x="186.55" y="433.98" font-size="3.7" font-weight="bold" text-anchor="middle" fill="#111" stroke="#111" stroke-width="0.1">3.17</text>
<text x="75" y="433.98" font-size="3.66" text-anchor="end" fill="#222" stroke="#222" stroke-width="0.09">doctor5 (Breast)</text>
<line x1="75.6" y1="432.68" x2="78" y2="432.68" stroke="#333333" stroke-width="0.5"/>
<line x1="99.9" y1="441.96" x2="204.5" y2="441.96" stroke="#e8915f" stroke-width="1.3" stroke-opacity="0.55"/>
<circle cx="153.67" cy="441.96" r="2.6" fill="#e8915f" stroke="#fff" stroke-width="0.6"/>
<text x="176.17" y="443.26" font-size="3.7" font-weight="bold" text-anchor="middle" fill="#111" stroke="#111" stroke-width="0.1">3.09</text>
<text x="75" y="443.26" font-size="3.66" text-anchor="end" fill="#222" stroke="#222" stroke-width="0.09">doctor5 (Lung)</text>
<line x1="75.6" y1="441.96" x2="78" y2="441.96" stroke="#333333" stroke-width="0.5"/>
<line x1="98.2" y1="451.24" x2="203" y2="451.24" stroke="#3f2439" stroke-width="1.3" stroke-opacity="0.55"/>
<circle cx="152.38" cy="451.24" r="2.6" fill="#3f2439" stroke="#fff" stroke-width="0.6"/>
<text x="174.88" y="452.54" font-size="3.7" font-weight="bold" text-anchor="middle" fill="#111" stroke="#111" stroke-width="0.1">3.08</text>
<text x="75" y="452.54" font-size="3.66" text-anchor="end" fill="#222" stroke="#222" stroke-width="0.09">doctor5 (Lymphoma)</text>
<line x1="75.6" y1="451.24" x2="78" y2="451.24" stroke="#333333" stroke-width="0.5"/>
<line x1="89.2" y1="460.52" x2="194.3" y2="460.52" stroke="#4d8580" stroke-width="1.3" stroke-opacity="0.55"/>
<circle cx="143.3" cy="460.52" r="2.6" fill="#4d8580" stroke="#fff" stroke-width="0.6"/>
<text x="165.8" y="461.82" font-size="3.7" font-weight="bold" text-anchor="middle" fill="#111" stroke="#111" stroke-width="0.1">3.01</text>
<text x="75" y="461.82" font-size="3.66" text-anchor="end" fill="#222" stroke="#222" stroke-width="0.09">doctor5 (HCC)</text>
<line x1="75.6" y1="460.52" x2="78" y2="460.52" stroke="#333333" stroke-width="0.5"/>
<line x1="78" y1="275" x2="78" y2="469.9" stroke="#333333" stroke-width="0.8"/>
<line x1="77.6" y1="469.5" x2="325.6" y2="469.5" stroke="#333333" stroke-width="0.8"/>
<line x1="109.58" y1="469.5" x2="109.58" y2="471.2" stroke="#333333" stroke-width="0.5"/>
<text x="109.58" y="475" font-size="3.9" text-anchor="middle" fill="#222" stroke="#222" stroke-width="0.09">2.75</text>
<line x1="142" y1="469.5" x2="142" y2="471.2" stroke="#333333" stroke-width="0.5"/>
<text x="142" y="475" font-size="3.9" text-anchor="middle" fill="#222" stroke="#222" stroke-width="0.09">3.00</text>
<line x1="174.43" y1="469.5" x2="174.43" y2="471.2" stroke="#333333" stroke-width="0.5"/>
<text x="174.43" y="475" font-size="3.9" text-anchor="middle" fill="#222" stroke="#222" stroke-width="0.09">3.25</text>
<line x1="206.85" y1="469.5" x2="206.85" y2="471.2" stroke="#333333" stroke-width="0.5"/>
<text x="206.85" y="475" font-size="3.9" text-anchor="middle" fill="#222" stroke="#222" stroke-width="0.09">3.50</text>
<line x1="239.27" y1="469.5" x2="239.27" y2="471.2" stroke="#333333" stroke-width="0.5"/>
<text x="239.27" y="475" font-size="3.9" text-anchor="middle" fill="#222" stroke="#222" stroke-width="0.09">3.75</text>
<line x1="271.7" y1="469.5" x2="271.7" y2="471.2" stroke="#333333" stroke-width="0.5"/>
<text x="271.7" y="475" font-size="3.9" text-anchor="middle" fill="#222" stroke="#222" stroke-width="0.09">4.00</text>
<line x1="304.12" y1="469.5" x2="304.12" y2="471.2" stroke="#333333" stroke-width="0.5"/>
<text x="304.12" y="475" font-size="3.9" text-anchor="middle" fill="#222" stroke="#222" stroke-width="0.09">4.25</text>
<text x="202" y="482.1" font-size="4.89" font-weight="bold" text-anchor="middle" fill="#111" stroke="#111" stroke-width="0.1">Overall Score (/5) with 95% CI</text>
<text x="201.7" y="260.9" font-size="5.7" font-weight="bold" text-anchor="middle" fill="#111" stroke="#111" stroke-width="0.1">Figure 3 | Overall Performance Ranking</text>
<text x="202" y="267.7" font-size="5.7" font-weight="bold" text-anchor="middle" fill="#111" stroke="#111" stroke-width="0.1">All Tumor Types (Range: 3.01–3.92)</text>
<rect x="264.5" y="450.4" width="59.5" height="17.2" fill="#fff" stroke="#d8d8d8" stroke-width="0.5" rx="0.8"/>
<text x="294.2" y="455.3" font-size="3.8" text-anchor="middle" fill="#111" stroke="#111" stroke-width="0.09">Tumor Type</text>
<rect x="266.1" y="458.05" width="7.6" height="2.3" fill="#4d8580"/>
<text x="276.1" y="460.5" font-size="3.7" text-anchor="start" fill="#222" stroke="#222" stroke-width="0.09">HCC</text>
<rect x="266.1" y="463.05" width="7.6" height="2.3" fill="#dc6a4f"/>
<text x="276.1" y="465.5" font-size="3.7" text-anchor="start" fill="#222" stroke="#222" stroke-width="0.09">Breast</text>
<rect x="294.7" y="458.05" width="7.6" height="2.3" fill="#e8915f"/>
<text x="304.7" y="460.5" font-size="3.7" text-anchor="start" fill="#222" stroke="#222" stroke-width="0.09">Lung</text>
<rect x="294.7" y="463.05" width="7.6" height="2.3" fill="#3f2439"/>
<text x="304.7" y="465.5" font-size="3.7" text-anchor="start" fill="#222" stroke="#222" stroke-width="0.09">Lymphoma</text>
<circle cx="506.15" cy="392.4" r="20.52" fill="none" stroke="#dedede" stroke-width="0.5" stroke-dasharray="1.2,1"/>
<circle cx="506.15" cy="392.4" r="41.04" fill="none" stroke="#dedede" stroke-width="0.5" stroke-dasharray="1.2,1"/>
<circle cx="506.15" cy="392.4" r="61.56" fill="none" stroke="#dedede" stroke-width="0.5" stroke-dasharray="1.2,1"/>
<circle cx="506.15" cy="392.4" r="82.08" fill="none" stroke="#dedede" stroke-width="0.5" stroke-dasharray="1.2,1"/>
<line x1="506.15" y1="392.4" x2="608.75" y2="392.4" stroke="#e8e8e8" stroke-width="0.5" stroke-dasharray="1,1"/>
<line x1="506.15" y1="392.4" x2="557.45" y2="303.55" stroke="#e8e8e8" stroke-width="0.5" stroke-dasharray="1,1"/>
<line x1="506.15" y1="392.4" x2="454.85" y2="303.55" stroke="#e8e8e8" stroke-width="0.5" stroke-dasharray="1,1"/>
<line x1="506.15" y1="392.4" x2="403.55" y2="392.4" stroke="#e8e8e8" stroke-width="0.5" stroke-dasharray="1,1"/>
<line x1="506.15" y1="392.4" x2="454.85" y2="481.25" stroke="#e8e8e8" stroke-width="0.5" stroke-dasharray="1,1"/>
<line x1="506.15" y1="392.4" x2="557.45" y2="481.25" stroke="#e8e8e8" stroke-width="0.5" stroke-dasharray="1,1"/>
<polygon points="579.51,392.4 544.06,326.74 469.28,328.53 432.01,392.4 469.44,455.98 543.88,457.74" fill="#f9ebe6" stroke="none" stroke-width="0" stroke-linejoin="round"/>
<polygon points="575.36,392.4 542.19,329.97 471.34,332.1 435.93,392.4 471.42,452.55 542.4,455.18" fill="#c6b3ae" stroke="none" stroke-width="0" stroke-linejoin="round"/>
<polygon points="577.31,392.4 543.17,328.28 470.36,330.42 433.98,392.4 470.45,454.24 543.37,456.87" fill="none" stroke="#e8915f" stroke-width="0.8" stroke-linejoin="round"/>
<polygon points="579.51,392.4 544.06,326.74 469.28,328.53 432.01,392.4 469.44,455.98 543.88,457.74" fill="none" stroke="#dc6a4f" stroke-width="0.9" stroke-linejoin="round"/>
<polygon points="575.36,392.4 542.19,329.97 471.34,332.1 435.93,392.4 471.42,452.55 542.4,455.18" fill="none" stroke="#4d8580" stroke-width="0.9" stroke-linejoin="round"/>
<polygon points="576.29,392.4 542.66,329.17 470.88,331.3 435.01,392.4 470.96,453.35 542.86,455.98" fill="none" stroke="#3f2439" stroke-width="1.0" stroke-linejoin="round"/>
<circle cx="575.36" cy="392.4" r="1.4" fill="#4d8580"/>
<circle cx="542.19" cy="329.97" r="1.4" fill="#4d8580"/>
<circle cx="471.34" cy="332.1" r="1.4" fill="#4d8580"/>
<circle cx="435.93" cy="392.4" r="1.4" fill="#4d8580"/>
<circle cx="471.42" cy="452.55" r="1.4" fill="#4d8580"/>
<circle cx="542.4" cy="455.18" r="1.4" fill="#4d8580"/>
<circle cx="577.31" cy="392.4" r="1.4" fill="#e8915f"/>
<circle cx="543.17" cy="328.28" r="1.4" fill="#e8915f"/>
<circle cx="470.36" cy="330.42" r="1.4" fill="#e8915f"/>
<circle cx="433.98" cy="392.4" r="1.4" fill="#e8915f"/>
<circle cx="470.45" cy="454.24" r="1.4" fill="#e8915f"/>
<circle cx="543.37" cy="456.87" r="1.4" fill="#e8915f"/>
<circle cx="579.51" cy="392.4" r="1.4" fill="#dc6a4f"/>
<circle cx="544.06" cy="326.74" r="1.4" fill="#dc6a4f"/>
<circle cx="469.28" cy="328.53" r="1.4" fill="#dc6a4f"/>
<circle cx="432.01" cy="392.4" r="1.4" fill="#dc6a4f"/>
<circle cx="469.44" cy="455.98" r="1.4" fill="#dc6a4f"/>
<circle cx="543.88" cy="457.74" r="1.4" fill="#dc6a4f"/>
<circle cx="576.29" cy="392.4" r="1.4" fill="#3f2439"/>
<circle cx="542.66" cy="329.17" r="1.4" fill="#3f2439"/>
<circle cx="470.88" cy="331.3" r="1.4" fill="#3f2439"/>
<circle cx="435.01" cy="392.4" r="1.4" fill="#3f2439"/>
<circle cx="470.96" cy="453.35" r="1.4" fill="#3f2439"/>
<circle cx="542.86" cy="455.98" r="1.4" fill="#3f2439"/>
<circle cx="506.15" cy="392.4" r="102.6" fill="none" stroke="#222" stroke-width="0.8"/>
<text x="526.4" y="383.9" font-size="4.2" text-anchor="middle" fill="#333" stroke="#333" stroke-width="0.09">1</text>
<text x="545.4" y="375.9" font-size="4.2" text-anchor="middle" fill="#333" stroke="#333" stroke-width="0.09">2</text>
<text x="583.4" y="360.5" font-size="4.2" text-anchor="middle" fill="#333" stroke="#333" stroke-width="0.09">4</text>
<text x="602" y="352.5" font-size="4.2" text-anchor="middle" fill="#333" stroke="#333" stroke-width="0.09">5</text>
<text x="615" y="391.2" font-size="4.4" text-anchor="middle" fill="#1a1a1a" stroke="#1a1a1a" stroke-width="0.09">Clinical</text>
<text x="615" y="396.1" font-size="4.4" text-anchor="middle" fill="#1a1a1a" stroke="#1a1a1a" stroke-width="0.09">Approp.</text>
<text x="560.7" y="297.7" font-size="4.4" text-anchor="middle" fill="#1a1a1a" stroke="#1a1a1a" stroke-width="0.09">Response</text>
<text x="560.7" y="302.6" font-size="4.4" text-anchor="middle" fill="#1a1a1a" stroke="#1a1a1a" stroke-width="0.09">Complete.</text>
<text x="452.2" y="297.8" font-size="4.4" text-anchor="middle" fill="#1a1a1a" stroke="#1a1a1a" stroke-width="0.09">Response</text>
<text x="452.2" y="302.7" font-size="4.4" text-anchor="middle" fill="#1a1a1a" stroke="#1a1a1a" stroke-width="0.09">Efficiency</text>
<text x="398" y="391.4" font-size="4.4" text-anchor="middle" fill="#1a1a1a" stroke="#1a1a1a" stroke-width="0.09">Evidence</text>
<text x="398" y="396.3" font-size="4.4" text-anchor="middle" fill="#1a1a1a" stroke="#1a1a1a" stroke-width="0.09">Util.</text>
<text x="452.1" y="484.9" font-size="4.4" text-anchor="middle" fill="#1a1a1a" stroke="#1a1a1a" stroke-width="0.09">Patient</text>
<text x="452.1" y="489.8" font-size="4.4" text-anchor="middle" fill="#1a1a1a" stroke="#1a1a1a" stroke-width="0.09">Centered</text>
<text x="560.7" y="485.1" font-size="4.4" text-anchor="middle" fill="#1a1a1a" stroke="#1a1a1a" stroke-width="0.09">Safety &amp;</text>
<text x="560.7" y="490" font-size="4.4" text-anchor="middle" fill="#1a1a1a" stroke="#1a1a1a" stroke-width="0.09">Ethics</text>
<text x="506.5" y="271.5" font-size="5.67" font-weight="bold" text-anchor="middle" fill="#111" stroke="#111" stroke-width="0.1">Figure 4 | Multi-Dimensional Performance Profile</text>
<text x="506.3" y="277.5" font-size="5.67" font-weight="bold" text-anchor="middle" fill="#111" stroke="#111" stroke-width="0.1">Four Tumor Types × Six Dimensions</text>
<rect x="630.5" y="271.4" width="38" height="32.8" fill="#fff" stroke="#d8d8d8" stroke-width="0.5" rx="0.8"/>
<text x="649.6" y="276.6" font-size="4" text-anchor="middle" fill="#222" stroke="#222" stroke-width="0.09">Tumor Type</text>
<line x1="631.7" y1="281.2" x2="641.9" y2="281.2" stroke="#4d8580" stroke-width="1.4" stroke-opacity="0.75"/>
<circle cx="636.7" cy="281.2" r="1.6" fill="#4d8580"/>
<text x="645" y="282.7" font-size="4.3" text-anchor="start" fill="#222" stroke="#222" stroke-width="0.09">HCC</text>
<line x1="631.7" y1="287.58" x2="641.9" y2="287.58" stroke="#dc6a4f" stroke-width="1.4" stroke-opacity="0.75"/>
<circle cx="636.7" cy="287.58" r="1.6" fill="#dc6a4f"/>
<text x="645" y="289.08" font-size="4.3" text-anchor="start" fill="#222" stroke="#222" stroke-width="0.09">Breast</text>
<line x1="631.7" y1="293.96" x2="641.9" y2="293.96" stroke="#e8915f" stroke-width="1.4" stroke-opacity="0.75"/>
<circle cx="636.7" cy="293.96" r="1.6" fill="#e8915f"/>
<text x="645" y="295.46" font-size="4.3" text-anchor="start" fill="#222" stroke="#222" stroke-width="0.09">Lung</text>
<line x1="631.7" y1="300.34" x2="641.9" y2="300.34" stroke="#3f2439" stroke-width="1.4" stroke-opacity="0.75"/>
<circle cx="636.7" cy="300.34" r="1.6" fill="#3f2439"/>
<text x="645" y="301.84" font-size="4.3" text-anchor="start" fill="#222" stroke="#222" stroke-width="0.09">Lymphoma</text>
<line x1="59.5" y1="595.6" x2="59.5" y2="742.2" stroke="#efefef" stroke-width="0.5"/>
<line x1="129.3" y1="595.6" x2="129.3" y2="742.2" stroke="#efefef" stroke-width="0.5"/>
<line x1="164.2" y1="595.6" x2="164.2" y2="742.2" stroke="#efefef" stroke-width="0.5"/>
<line x1="199.1" y1="595.6" x2="199.1" y2="742.2" stroke="#efefef" stroke-width="0.5"/>
<line x1="234" y1="595.6" x2="234" y2="742.2" stroke="#efefef" stroke-width="0.5"/>
<line x1="268.9" y1="595.6" x2="268.9" y2="742.2" stroke="#efefef" stroke-width="0.5"/>
<line x1="94.4" y1="595.6" x2="94.4" y2="742.2" stroke="#a0a0a0" stroke-width="0.5" stroke-dasharray="1,1"/>
<text x="56" y="603.6" font-size="4.7" text-anchor="end" fill="#222" stroke="#222" stroke-width="0.09">PatientCentered</text>
<line x1="57.2" y1="602" x2="59.5" y2="602" stroke="#333333" stroke-width="0.5"/>
<line x1="231" y1="602" x2="257.2" y2="602" stroke="#7ba5a3" stroke-width="1.3"/>
<circle cx="249.3" cy="602" r="2.5" fill="#d7443a" stroke="#fff" stroke-width="0.6"/>
<text x="320.6" y="603.35" font-size="3.9" font-weight="bold" text-anchor="middle" fill="#111" stroke="#111" stroke-width="0.1">0.972</text>
<text x="56" y="630.28" font-size="4.7" text-anchor="end" fill="#222" stroke="#222" stroke-width="0.09">Evidence</text>
<line x1="57.2" y1="628.68" x2="59.5" y2="628.68" stroke="#333333" stroke-width="0.5"/>
<line x1="231" y1="628.68" x2="257.2" y2="628.68" stroke="#7ba5a3" stroke-width="1.3"/>
<circle cx="249.3" cy="628.68" r="2.5" fill="#d7443a" stroke="#fff" stroke-width="0.6"/>
<text x="320.6" y="630.03" font-size="3.9" font-weight="bold" text-anchor="middle" fill="#111" stroke="#111" stroke-width="0.1">0.972</text>
<text x="56" y="656.96" font-size="4.7" text-anchor="end" fill="#222" stroke="#222" stroke-width="0.09">Clinical</text>
<line x1="57.2" y1="655.36" x2="59.5" y2="655.36" stroke="#333333" stroke-width="0.5"/>
<line x1="231" y1="655.36" x2="257.2" y2="655.36" stroke="#7ba5a3" stroke-width="1.3"/>
<circle cx="249.3" cy="655.36" r="2.5" fill="#d7443a" stroke="#fff" stroke-width="0.6"/>
<text x="320.6" y="656.71" font-size="3.9" font-weight="bold" text-anchor="middle" fill="#111" stroke="#111" stroke-width="0.1">0.972</text>
<text x="56" y="683.64" font-size="4.7" text-anchor="end" fill="#222" stroke="#222" stroke-width="0.09">Completeness</text>
<line x1="57.2" y1="682.04" x2="59.5" y2="682.04" stroke="#333333" stroke-width="0.5"/>
<line x1="231" y1="682.04" x2="257.2" y2="682.04" stroke="#7ba5a3" stroke-width="1.3"/>
<circle cx="249.3" cy="682.04" r="2.5" fill="#d7443a" stroke="#fff" stroke-width="0.6"/>
<text x="320.6" y="683.39" font-size="3.9" font-weight="bold" text-anchor="middle" fill="#111" stroke="#111" stroke-width="0.1">0.972</text>
<text x="56" y="710.32" font-size="4.7" text-anchor="end" fill="#222" stroke="#222" stroke-width="0.09">Efficiency</text>
<line x1="57.2" y1="708.72" x2="59.5" y2="708.72" stroke="#333333" stroke-width="0.5"/>
<line x1="231" y1="708.72" x2="257.2" y2="708.72" stroke="#7ba5a3" stroke-width="1.3"/>
<circle cx="249.3" cy="708.72" r="2.5" fill="#d7443a" stroke="#fff" stroke-width="0.6"/>
<text x="320.6" y="710.07" font-size="3.9" font-weight="bold" text-anchor="middle" fill="#111" stroke="#111" stroke-width="0.1">0.972</text>
<text x="56" y="737" font-size="4.7" text-anchor="end" fill="#222" stroke="#222" stroke-width="0.09">Safety</text>
<line x1="57.2" y1="735.4" x2="59.5" y2="735.4" stroke="#333333" stroke-width="0.5"/>
<line x1="231" y1="735.4" x2="257.2" y2="735.4" stroke="#7ba5a3" stroke-width="1.3"/>
<circle cx="249.3" cy="735.4" r="2.5" fill="#d7443a" stroke="#fff" stroke-width="0.6"/>
<text x="320.6" y="736.75" font-size="3.9" font-weight="bold" text-anchor="middle" fill="#111" stroke="#111" stroke-width="0.1">0.972</text>
<line x1="59" y1="742.3" x2="303.8" y2="742.3" stroke="#333333" stroke-width="0.8"/>
<line x1="59.5" y1="742.3" x2="59.5" y2="744" stroke="#333333" stroke-width="0.5"/>
<text x="59.5" y="748.8" font-size="4.7" text-anchor="middle" fill="#222" stroke="#222" stroke-width="0.09">0.70</text>
<line x1="94.4" y1="742.3" x2="94.4" y2="744" stroke="#333333" stroke-width="0.5"/>
<text x="94.4" y="748.8" font-size="4.7" text-anchor="middle" fill="#222" stroke="#222" stroke-width="0.09">0.75</text>
<line x1="129.3" y1="742.3" x2="129.3" y2="744" stroke="#333333" stroke-width="0.5"/>
<text x="129.3" y="748.8" font-size="4.7" text-anchor="middle" fill="#222" stroke="#222" stroke-width="0.09">0.80</text>
<line x1="164.2" y1="742.3" x2="164.2" y2="744" stroke="#333333" stroke-width="0.5"/>
<text x="164.2" y="748.8" font-size="4.7" text-anchor="middle" fill="#222" stroke="#222" stroke-width="0.09">0.85</text>
<line x1="199.1" y1="742.3" x2="199.1" y2="744" stroke="#333333" stroke-width="0.5"/>
<text x="199.1" y="748.8" font-size="4.7" text-anchor="middle" fill="#222" stroke="#222" stroke-width="0.09">0.90</text>
<line x1="234" y1="742.3" x2="234" y2="744" stroke="#333333" stroke-width="0.5"/>
<text x="234" y="748.8" font-size="4.7" text-anchor="middle" fill="#222" stroke="#222" stroke-width="0.09">0.95</text>
<line x1="268.9" y1="742.3" x2="268.9" y2="744" stroke="#333333" stroke-width="0.5"/>
<text x="268.9" y="748.8" font-size="4.7" text-anchor="middle" fill="#222" stroke="#222" stroke-width="0.09">1.00</text>
<line x1="303.8" y1="742.3" x2="303.8" y2="744" stroke="#333333" stroke-width="0.5"/>
<text x="303.8" y="748.8" font-size="4.7" text-anchor="middle" fill="#222" stroke="#222" stroke-width="0.09">1.05</text>
<text x="181.3" y="755.3" font-size="5.13" font-weight="bold" text-anchor="middle" fill="#111" stroke="#111" stroke-width="0.1">ICC(3,k)</text>
<text x="181.5" y="582.2" font-size="6" font-weight="bold" text-anchor="middle" fill="#111" stroke="#111" stroke-width="0.1">Figure 5 | Inter-Rater Reliability</text>
<text x="181.5" y="588.9" font-size="6" font-weight="bold" text-anchor="middle" fill="#111" stroke="#111" stroke-width="0.1">ICC(3,k) with 95% CI</text>
<rect x="399.7" y="572.3" width="37.42" height="34.87" fill="#3e887a" stroke="#fff" stroke-width="1.3"/>
<text x="418.41" y="591.23" font-size="5.5" font-weight="bold" text-anchor="middle" fill="#fff" stroke="#fff" stroke-width="0.1">1.00</text>
<rect x="437.12" y="572.3" width="37.42" height="34.87" fill="#dfc1b4" stroke="#fff" stroke-width="1.3"/>
<text x="455.82" y="591.23" font-size="5.5" font-weight="bold" text-anchor="middle" fill="#111" stroke="#111" stroke-width="0.1">0.83</text>
<rect x="474.53" y="572.3" width="37.42" height="34.87" fill="#a4bfb0" stroke="#fff" stroke-width="1.3"/>
<text x="493.24" y="591.23" font-size="5.5" font-weight="bold" text-anchor="middle" fill="#fff" stroke="#fff" stroke-width="0.1">0.90</text>
<rect x="511.95" y="572.3" width="37.42" height="34.87" fill="#dfc1b4" stroke="#fff" stroke-width="1.3"/>
<text x="530.66" y="591.23" font-size="5.5" font-weight="bold" text-anchor="middle" fill="#111" stroke="#111" stroke-width="0.1">0.83</text>
<rect x="549.37" y="572.3" width="37.42" height="34.87" fill="#d9867a" stroke="#fff" stroke-width="1.3"/>
<text x="568.08" y="591.23" font-size="5.5" font-weight="bold" text-anchor="middle" fill="#111" stroke="#111" stroke-width="0.1">0.78</text>
<rect x="586.78" y="572.3" width="37.42" height="34.87" fill="#d99b8f" stroke="#fff" stroke-width="1.3"/>
<text x="605.49" y="591.23" font-size="5.5" font-weight="bold" text-anchor="middle" fill="#111" stroke="#111" stroke-width="0.1">0.80</text>
<rect x="399.7" y="607.17" width="37.42" height="34.87" fill="#dfc1b4" stroke="#fff" stroke-width="1.3"/>
<text x="418.41" y="626.1" font-size="5.5" font-weight="bold" text-anchor="middle" fill="#111" stroke="#111" stroke-width="0.1">0.83</text>
<rect x="437.12" y="607.17" width="37.42" height="34.87" fill="#3e887a" stroke="#fff" stroke-width="1.3"/>
<text x="455.82" y="626.1" font-size="5.5" font-weight="bold" text-anchor="middle" fill="#fff" stroke="#fff" stroke-width="0.1">1.00</text>
<rect x="474.53" y="607.17" width="37.42" height="34.87" fill="#d99b8f" stroke="#fff" stroke-width="1.3"/>
<text x="493.24" y="626.1" font-size="5.5" font-weight="bold" text-anchor="middle" fill="#111" stroke="#111" stroke-width="0.1">0.80</text>
<rect x="511.95" y="607.17" width="37.42" height="34.87" fill="#dcb1a4" stroke="#fff" stroke-width="1.3"/>
<text x="530.66" y="626.1" font-size="5.5" font-weight="bold" text-anchor="middle" fill="#111" stroke="#111" stroke-width="0.1">0.82</text>
<rect x="549.37" y="607.17" width="37.42" height="34.87" fill="#d99b8f" stroke="#fff" stroke-width="1.3"/>
<text x="568.08" y="626.1" font-size="5.5" font-weight="bold" text-anchor="middle" fill="#111" stroke="#111" stroke-width="0.1">0.80</text>
<rect x="586.78" y="607.17" width="37.42" height="34.87" fill="#e0cebd" stroke="#fff" stroke-width="1.3"/>
<text x="605.49" y="626.1" font-size="5.5" font-weight="bold" text-anchor="middle" fill="#111" stroke="#111" stroke-width="0.1">0.84</text>
<rect x="399.7" y="642.03" width="37.42" height="34.87" fill="#a4bfb0" stroke="#fff" stroke-width="1.3"/>
<text x="418.41" y="660.97" font-size="5.5" font-weight="bold" text-anchor="middle" fill="#fff" stroke="#fff" stroke-width="0.1">0.90</text>
<rect x="437.12" y="642.03" width="37.42" height="34.87" fill="#d99b8f" stroke="#fff" stroke-width="1.3"/>
<text x="455.82" y="660.97" font-size="5.5" font-weight="bold" text-anchor="middle" fill="#111" stroke="#111" stroke-width="0.1">0.80</text>
<rect x="474.53" y="642.03" width="37.42" height="34.87" fill="#3e887a" stroke="#fff" stroke-width="1.3"/>
<text x="493.24" y="660.97" font-size="5.5" font-weight="bold" text-anchor="middle" fill="#fff" stroke="#fff" stroke-width="0.1">1.00</text>
<rect x="511.95" y="642.03" width="37.42" height="34.87" fill="#d99b8f" stroke="#fff" stroke-width="1.3"/>
<text x="530.66" y="660.97" font-size="5.5" font-weight="bold" text-anchor="middle" fill="#111" stroke="#111" stroke-width="0.1">0.80</text>
<rect x="549.37" y="642.03" width="37.42" height="34.87" fill="#d46d64" stroke="#fff" stroke-width="1.3"/>
<text x="568.08" y="660.97" font-size="5.5" font-weight="bold" text-anchor="middle" fill="#111" stroke="#111" stroke-width="0.1">0.76</text>
<rect x="586.78" y="642.03" width="37.42" height="34.87" fill="#d57870" stroke="#fff" stroke-width="1.3"/>
<text x="605.49" y="660.97" font-size="5.5" font-weight="bold" text-anchor="middle" fill="#111" stroke="#111" stroke-width="0.1">0.77</text>
<rect x="399.7" y="676.9" width="37.42" height="34.87" fill="#dfc1b4" stroke="#fff" stroke-width="1.3"/>
<text x="418.41" y="695.83" font-size="5.5" font-weight="bold" text-anchor="middle" fill="#111" stroke="#111" stroke-width="0.1">0.83</text>
<rect x="437.12" y="676.9" width="37.42" height="34.87" fill="#dcb1a4" stroke="#fff" stroke-width="1.3"/>
<text x="455.82" y="695.83" font-size="5.5" font-weight="bold" text-anchor="middle" fill="#111" stroke="#111" stroke-width="0.1">0.82</text>
<rect x="474.53" y="676.9" width="37.42" height="34.87" fill="#d99b8f" stroke="#fff" stroke-width="1.3"/>
<text x="493.24" y="695.83" font-size="5.5" font-weight="bold" text-anchor="middle" fill="#111" stroke="#111" stroke-width="0.1">0.80</text>
<rect x="511.95" y="676.9" width="37.42" height="34.87" fill="#3e887a" stroke="#fff" stroke-width="1.3"/>
<text x="530.66" y="695.83" font-size="5.5" font-weight="bold" text-anchor="middle" fill="#fff" stroke="#fff" stroke-width="0.1">1.00</text>
<rect x="549.37" y="676.9" width="37.42" height="34.87" fill="#d99b8f" stroke="#fff" stroke-width="1.3"/>
<text x="568.08" y="695.83" font-size="5.5" font-weight="bold" text-anchor="middle" fill="#111" stroke="#111" stroke-width="0.1">0.80</text>
<rect x="586.78" y="676.9" width="37.42" height="34.87" fill="#d8d5c3" stroke="#fff" stroke-width="1.3"/>
<text x="605.49" y="695.83" font-size="5.5" font-weight="bold" text-anchor="middle" fill="#fff" stroke="#fff" stroke-width="0.1">0.86</text>
<rect x="399.7" y="711.77" width="37.42" height="34.87" fill="#d9867a" stroke="#fff" stroke-width="1.3"/>
<text x="418.41" y="730.7" font-size="5.5" font-weight="bold" text-anchor="middle" fill="#111" stroke="#111" stroke-width="0.1">0.78</text>
<rect x="437.12" y="711.77" width="37.42" height="34.87" fill="#d99b8f" stroke="#fff" stroke-width="1.3"/>
<text x="455.82" y="730.7" font-size="5.5" font-weight="bold" text-anchor="middle" fill="#111" stroke="#111" stroke-width="0.1">0.80</text>
<rect x="474.53" y="711.77" width="37.42" height="34.87" fill="#d46d64" stroke="#fff" stroke-width="1.3"/>
<text x="493.24" y="730.7" font-size="5.5" font-weight="bold" text-anchor="middle" fill="#111" stroke="#111" stroke-width="0.1">0.76</text>
<rect x="511.95" y="711.77" width="37.42" height="34.87" fill="#d99b8f" stroke="#fff" stroke-width="1.3"/>
<text x="530.66" y="730.7" font-size="5.5" font-weight="bold" text-anchor="middle" fill="#111" stroke="#111" stroke-width="0.1">0.80</text>
<rect x="549.37" y="711.77" width="37.42" height="34.87" fill="#3e887a" stroke="#fff" stroke-width="1.3"/>
<text x="568.08" y="730.7" font-size="5.5" font-weight="bold" text-anchor="middle" fill="#fff" stroke="#fff" stroke-width="0.1">1.00</text>
<rect x="586.78" y="711.77" width="37.42" height="34.87" fill="#dfc1b4" stroke="#fff" stroke-width="1.3"/>
<text x="605.49" y="730.7" font-size="5.5" font-weight="bold" text-anchor="middle" fill="#111" stroke="#111" stroke-width="0.1">0.83</text>
<rect x="399.7" y="746.63" width="37.42" height="34.87" fill="#d99b8f" stroke="#fff" stroke-width="1.3"/>
<text x="418.41" y="765.57" font-size="5.5" font-weight="bold" text-anchor="middle" fill="#111" stroke="#111" stroke-width="0.1">0.80</text>
<rect x="437.12" y="746.63" width="37.42" height="34.87" fill="#e0cebd" stroke="#fff" stroke-width="1.3"/>
<text x="455.82" y="765.57" font-size="5.5" font-weight="bold" text-anchor="middle" fill="#111" stroke="#111" stroke-width="0.1">0.84</text>
<rect x="474.53" y="746.63" width="37.42" height="34.87" fill="#d57870" stroke="#fff" stroke-width="1.3"/>
<text x="493.24" y="765.57" font-size="5.5" font-weight="bold" text-anchor="middle" fill="#111" stroke="#111" stroke-width="0.1">0.77</text>
<rect x="511.95" y="746.63" width="37.42" height="34.87" fill="#d8d5c3" stroke="#fff" stroke-width="1.3"/>
<text x="530.66" y="765.57" font-size="5.5" font-weight="bold" text-anchor="middle" fill="#fff" stroke="#fff" stroke-width="0.1">0.86</text>
<rect x="549.37" y="746.63" width="37.42" height="34.87" fill="#dfc1b4" stroke="#fff" stroke-width="1.3"/>
<text x="568.08" y="765.57" font-size="5.5" font-weight="bold" text-anchor="middle" fill="#111" stroke="#111" stroke-width="0.1">0.83</text>
<rect x="586.78" y="746.63" width="37.42" height="34.87" fill="#3e887a" stroke="#fff" stroke-width="1.3"/>
<text x="605.49" y="765.57" font-size="5.5" font-weight="bold" text-anchor="middle" fill="#fff" stroke="#fff" stroke-width="0.1">1.00</text>
<line x1="397" y1="589.73" x2="400" y2="589.73" stroke="#222" stroke-width="0.6"/>
<text x="395" y="591.73" font-size="6.4" text-anchor="end" fill="#222">Safety</text>
<line x1="397" y1="624.6" x2="400" y2="624.6" stroke="#222" stroke-width="0.6"/>
<text x="395" y="626.6" font-size="6.4" text-anchor="end" fill="#222">Efficiency</text>
<line x1="397" y1="659.47" x2="400" y2="659.47" stroke="#222" stroke-width="0.6"/>
<text x="395" y="661.47" font-size="6.4" text-anchor="end" fill="#222">Completeness</text>
<line x1="397" y1="694.33" x2="400" y2="694.33" stroke="#222" stroke-width="0.6"/>
<text x="395" y="696.33" font-size="6.4" text-anchor="end" fill="#222">Clinical</text>
<line x1="397" y1="729.2" x2="400" y2="729.2" stroke="#222" stroke-width="0.6"/>
<text x="395" y="731.2" font-size="6.4" text-anchor="end" fill="#222">Evidence</text>
<line x1="397" y1="764.07" x2="400" y2="764.07" stroke="#222" stroke-width="0.6"/>
<text x="395" y="766.07" font-size="6.4" text-anchor="end" fill="#222">PatientCentered</text>
<line x1="418.41" y1="781.5" x2="418.41" y2="784.3" stroke="#222" stroke-width="0.6"/>
<text x="0" y="0" font-size="6.4" text-anchor="end" fill="#222" transform="translate(417.01,791) rotate(-45)">Safety</text>
<line x1="455.82" y1="781.5" x2="455.82" y2="784.3" stroke="#222" stroke-width="0.6"/>
<text x="0" y="0" font-size="6.4" text-anchor="end" fill="#222" transform="translate(454.43,791) rotate(-45)">Efficiency</text>
<line x1="493.24" y1="781.5" x2="493.24" y2="784.3" stroke="#222" stroke-width="0.6"/>
<text x="0" y="0" font-size="6.4" text-anchor="end" fill="#222" transform="translate(491.84,791) rotate(-45)">Completeness</text>
<line x1="530.66" y1="781.5" x2="530.66" y2="784.3" stroke="#222" stroke-width="0.6"/>
<text x="0" y="0" font-size="6.4" text-anchor="end" fill="#222" transform="translate(529.26,791) rotate(-45)">Clinical</text>
<line x1="568.08" y1="781.5" x2="568.08" y2="784.3" stroke="#222" stroke-width="0.6"/>
<text x="0" y="0" font-size="6.4" text-anchor="end" fill="#222" transform="translate(566.68,791) rotate(-45)">Evidence</text>
<line x1="605.49" y1="781.5" x2="605.49" y2="784.3" stroke="#222" stroke-width="0.6"/>
<text x="0" y="0" font-size="6.4" text-anchor="end" fill="#222" transform="translate(604.09,791) rotate(-45)">PatientCentered</text>
<text x="511.9" y="565.3" font-size="9.06" font-weight="bold" text-anchor="middle" fill="#111">Figure 6 | Inter-Dimension Agreement Matrix</text>
<defs><linearGradient id="cb" x1="0" y1="0" x2="0" y2="1"><stop offset="0" stop-color="#3e887a"/><stop offset="0.33" stop-color="#a4bfb0"/><stop offset="0.47" stop-color="#d8d5c3"/><stop offset="0.5" stop-color="#e6dac8"/><stop offset="0.53" stop-color="#e0cebd"/><stop offset="0.57" stop-color="#dfc1b4"/><stop offset="0.6" stop-color="#dcb1a4"/><stop offset="0.67" stop-color="#d99b8f"/><stop offset="0.73" stop-color="#d9867a"/><stop offset="0.77" stop-color="#d57870"/><stop offset="0.8" stop-color="#d46d64"/><stop offset="1" stop-color="#d63c34"/></linearGradient></defs>
<rect x="633.9" y="572.4" width="10.9" height="209" fill="url(#cb)" stroke="#111" stroke-width="0.8"/>
<line x1="644.8" y1="572.6" x2="647.2" y2="572.6" stroke="#222" stroke-width="0.6"/>
<text x="648.9" y="574.9" font-size="6.3" text-anchor="start" fill="#222">1.00</text>
<line x1="644.8" y1="677.2" x2="647.2" y2="677.2" stroke="#222" stroke-width="0.6"/>
<text x="648.9" y="679.5" font-size="6.3" text-anchor="start" fill="#222">0.85</text>
<line x1="644.8" y1="781.6" x2="647.2" y2="781.6" stroke="#222" stroke-width="0.6"/>
<text x="648.9" y="783.9" font-size="6.3" text-anchor="start" fill="#222">0.70</text>
<text x="0" y="0" font-size="6.5" font-weight="bold" text-anchor="middle" fill="#111" transform="translate(667.0,677.0) rotate(90)">Agreement</text>
</svg>
</body></html>
